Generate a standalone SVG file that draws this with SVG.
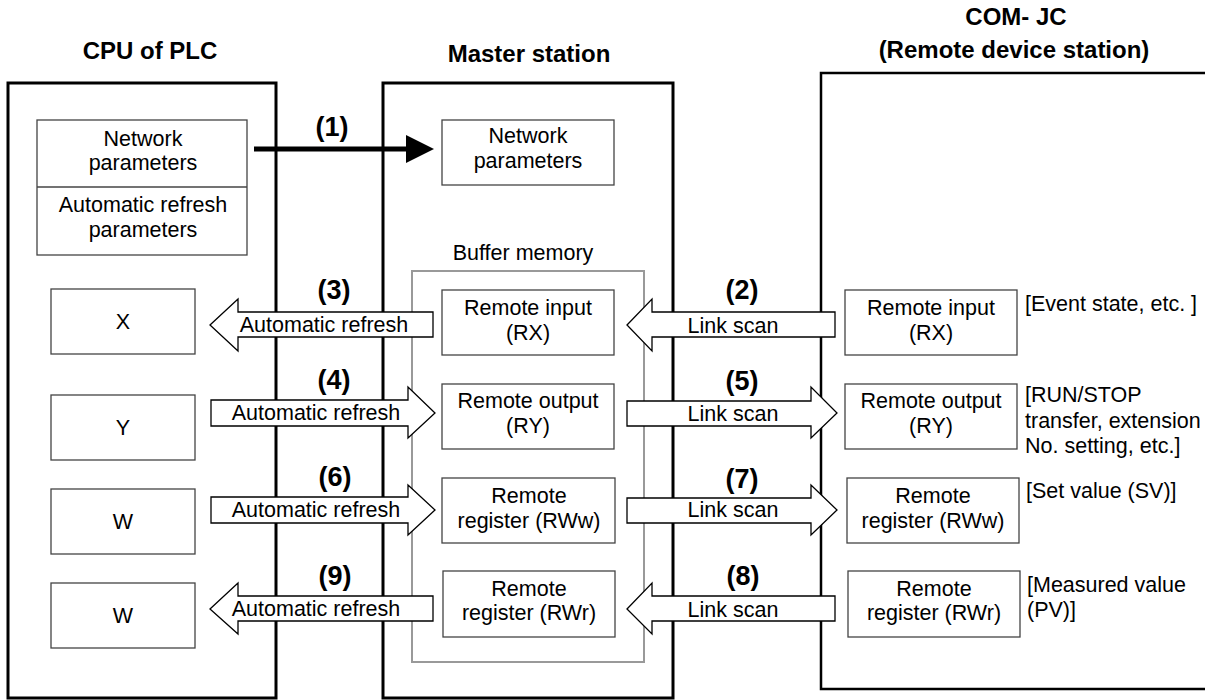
<svg xmlns="http://www.w3.org/2000/svg" width="1205" height="700" viewBox="0 0 1205 700">
<style>
text{font-family:"Liberation Sans",Arial,sans-serif;fill:#000}
.t{font-size:21.5px;text-anchor:middle}
.n{font-size:21.5px}
.b{font-size:24px;font-weight:bold;text-anchor:middle}
.num{font-size:27px;font-weight:bold;text-anchor:middle}
.box{fill:#fff;stroke:#444;stroke-width:1.3}
.frame{fill:none;stroke:#000;stroke-width:3}
.arr{fill:#fff;stroke:#000;stroke-width:1.3}
</style>
<rect width="1205" height="700" fill="#fff"/>
<g id="cpu">
<rect class="frame" x="8" y="83" width="268" height="615"/>
<text class="b" x="150" y="59">CPU of PLC</text>
<g id="cpu-params">
<rect class="box" x="37" y="120" width="210" height="135"/>
<line x1="37" y1="187" x2="247" y2="187" stroke="#444" stroke-width="1.3"/>
<text class="t" x="143" y="146">Network</text>
<text class="t" x="143" y="170">parameters</text>
<text class="t" x="143" y="212">Automatic refresh</text>
<text class="t" x="143" y="237">parameters</text>
</g>
<g id="cpu-x"><rect class="box" x="51" y="289" width="144" height="65"/><text class="t" x="123" y="329">X</text></g>
<g id="cpu-y"><rect class="box" x="51" y="395" width="144" height="65"/><text class="t" x="123" y="435">Y</text></g>
<g id="cpu-w1"><rect class="box" x="51" y="489" width="144" height="65"/><text class="t" x="123" y="529">W</text></g>
<g id="cpu-w2"><rect class="box" x="51" y="583" width="144" height="65"/><text class="t" x="123" y="623">W</text></g>
</g>
<g id="master">
<rect class="frame" x="383" y="83" width="290" height="615"/>
<text class="b" x="529" y="62">Master station</text>
<g id="m-params"><rect class="box" x="442" y="120" width="172" height="65"/>
<text class="t" x="528" y="143">Network</text><text class="t" x="528" y="168">parameters</text></g>
<g id="buffer">
<text class="t" x="523" y="260">Buffer memory</text>
<rect x="412" y="271" width="232" height="391" fill="none" stroke="#999" stroke-width="2"/>
</g>
<g id="m-rx"><rect class="box" x="442" y="290" width="172" height="65"/><text class="t" x="528" y="315">Remote input</text><text class="t" x="528" y="340">(RX)</text></g>
<g id="m-ry"><rect class="box" x="442" y="384" width="172" height="65"/><text class="t" x="528" y="408">Remote output</text><text class="t" x="528" y="433">(RY)</text></g>
<g id="m-rww"><rect class="box" x="442" y="478" width="173" height="65"/><text class="t" x="529" y="503">Remote</text><text class="t" x="529" y="528">register (RWw)</text></g>
<g id="m-rwr"><rect class="box" x="443" y="571" width="172" height="66"/><text class="t" x="529" y="596">Remote</text><text class="t" x="529" y="620">register (RWr)</text></g>
</g>
<g id="comjc">
<path d="M1210,73 H821 V689 H1210" fill="none" stroke="#000" stroke-width="2.5"/>
<text class="b" x="1016" y="25">COM- JC</text>
<text class="b" x="1014" y="58">(Remote device station)</text>
<g id="c-rx"><rect class="box" x="845" y="290" width="172" height="65"/><text class="t" x="931" y="315">Remote input</text><text class="t" x="931" y="340">(RX)</text></g>
<g id="c-ry"><rect class="box" x="845" y="384" width="172" height="65"/><text class="t" x="931" y="408">Remote output</text><text class="t" x="931" y="433">(RY)</text></g>
<g id="c-rww"><rect class="box" x="847" y="478" width="172" height="65"/><text class="t" x="933" y="503">Remote</text><text class="t" x="933" y="528">register (RWw)</text></g>
<g id="c-rwr"><rect class="box" x="848" y="571" width="172" height="66"/><text class="t" x="934" y="596">Remote</text><text class="t" x="934" y="620">register (RWr)</text></g>
<g id="notes">
<text class="n" x="1025" y="311">[Event state, etc. ]</text>
<text class="n" x="1025" y="402">[RUN/STOP</text>
<text class="n" x="1025" y="428">transfer, extension</text>
<text class="n" x="1025" y="453">No. setting, etc.]</text>
<text class="n" x="1026" y="498">[Set value (SV)]</text>
<text class="n" x="1027" y="592">[Measured value</text>
<text class="n" x="1027" y="617">(PV)]</text>
</g>
</g>
<g id="connectors">
<line x1="254" y1="149" x2="408" y2="149" stroke="#000" stroke-width="5"/>
<polygon points="406,135 434,149 406,163" fill="#000"/>
<text class="num" x="332" y="136">(1)</text>
<polygon class="arr" points="210,325 238,299 238,312 433,312 433,337 238,337 238,351"/>
<text class="t" x="324" y="332">Automatic refresh</text>
<text class="num" x="334" y="299">(3)</text>
<polygon class="arr" points="211,400 408,400 408,387 435,413 408,438 408,426 211,426"/>
<text class="t" x="316" y="420">Automatic refresh</text>
<text class="num" x="334" y="389">(4)</text>
<polygon class="arr" points="211,497 408,497 408,485 435,510 408,535 408,523 211,523"/>
<text class="t" x="316" y="517">Automatic refresh</text>
<text class="num" x="335" y="486">(6)</text>
<polygon class="arr" points="210,609 238,583 238,596 433,596 433,621 238,621 238,634"/>
<text class="t" x="316" y="616">Automatic refresh</text>
<text class="num" x="335" y="585">(9)</text>
<polygon class="arr" points="627,325 652,299 652,312 835,312 835,337 652,337 652,351"/>
<text class="t" x="733" y="333">Link scan</text>
<text class="num" x="742" y="299">(2)</text>
<polygon class="arr" points="627,401 811,401 811,387 837,413 811,438 811,426 627,426"/>
<text class="t" x="733" y="421">Link scan</text>
<text class="num" x="742" y="390">(5)</text>
<polygon class="arr" points="627,498 811,498 811,485 837,510 811,535 811,523 627,523"/>
<text class="t" x="733" y="517">Link scan</text>
<text class="num" x="742" y="488">(7)</text>
<polygon class="arr" points="627,609 652,583 652,596 835,596 835,621 652,621 652,634"/>
<text class="t" x="733" y="617">Link scan</text>
<text class="num" x="743" y="585">(8)</text>
</g>
</svg>
